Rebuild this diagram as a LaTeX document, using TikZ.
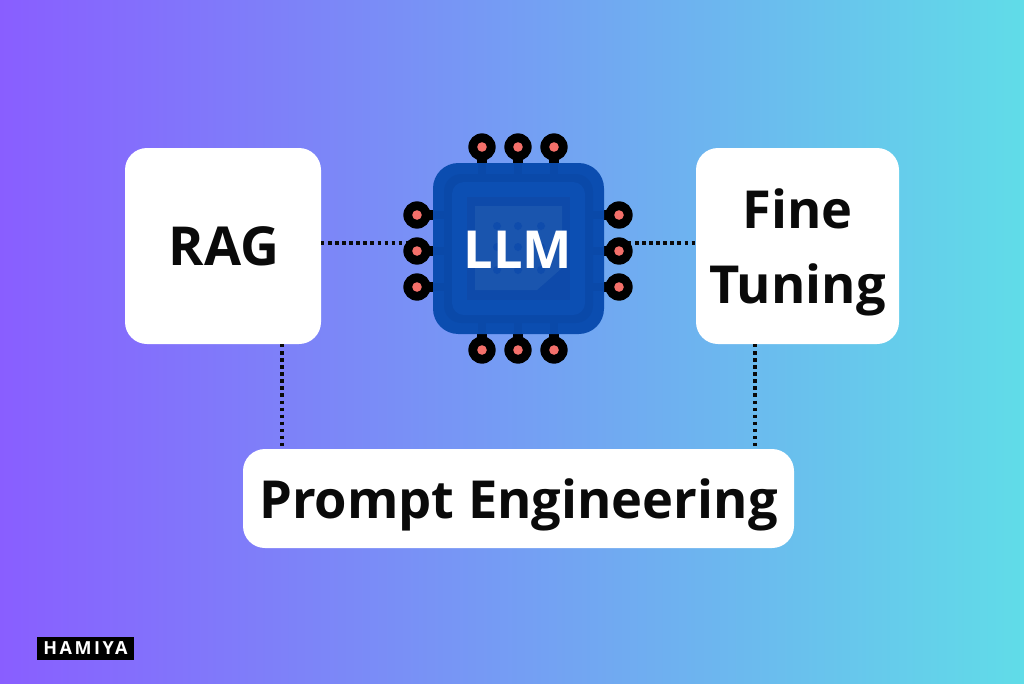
\documentclass[tikz,border=0pt]{standalone}
\usepackage{fontspec}
\setmainfont{Open Sans}
\usetikzlibrary{calc}
\definecolor{bgL}{HTML}{895EFF}
\definecolor{bgM}{HTML}{72A3EE}
\definecolor{bgR}{HTML}{60DCE8}
\definecolor{chipA}{HTML}{0B4DB0}
\definecolor{chipB}{HTML}{0A49A9}
\definecolor{chipC}{HTML}{0C4FB3}
\definecolor{chipD}{HTML}{0E4AAA}
\definecolor{chipE}{HTML}{1A55AE}
\definecolor{chipDot}{HTML}{0F4CAC}
\definecolor{ink}{HTML}{0A0A0A}
\definecolor{padc}{HTML}{F4706A}
\newcommand{\pxu}{0.75pt}
\tikzset{
  x=\pxu,y=-\pxu,
  card/.style={fill=white,rounded corners=16.5pt,inner sep=0pt,align=center,text=ink,text depth=0pt,
    font=\fontsize{39.3}{56}\selectfont\bfseries},
  link/.style={draw=ink,line width=2.6pt,dash pattern=on 2.6pt off 2.7pt},
  pad/.style={circle,fill=black,minimum size=20.5pt,inner sep=0pt},
  padcore/.style={circle,fill=padc,minimum size=7.2pt,inner sep=0pt},
  stem/.style={draw=black,line width=7.5pt},
  trace/.style={draw=chipB,line width=6pt},
  layer/.style={inner sep=0pt}
}
\begin{document}
\begin{tikzpicture}
\useasboundingbox (0,0) rectangle (1024,683);
\shade[left color=bgL,middle color=bgM,right color=bgR] (0,0) rectangle (1024,683);

\node[card,minimum width=147pt,minimum height=147pt] (rag) at (223,246) {\fontsize{40.3}{56}\selectfont\hspace*{1.5pt}RAG};
\node[card,minimum width=152.25pt,minimum height=147pt] (fine) at (797.5,246) {Fine\\Tuning};
\node[card,minimum width=413.25pt,minimum height=74.25pt] (prompt) at (518.5,498.5) {Prompt Engineering};
\node[layer,minimum size=128.25pt] (chip) at (518.5,248.5) {};

\coordinate (ragS) at (282,344);
\coordinate (ragP) at (282,449);
\coordinate (fineS) at (755,344);
\coordinate (fineP) at (755,449);
\coordinate (ragE) at (321,243);
\coordinate (chipW) at (410,243);
\coordinate (chipE) at (628,243);
\coordinate (fineW) at (696,243);
\draw[link] (ragE) -- (chipW);
\draw[link] (chipE) -- (fineW);
\draw[link] (ragS) -- (ragP);
\draw[link] (fineS) -- (fineP);

\foreach \n/\px/\py in {t1/482/147,t2/518/147,t3/554/147,b1/482/350,b2/518/350,b3/554/350,
                        l1/417/215,l2/417/251,l3/417/287,r1/619/215,r2/619/251,r3/619/287}{
  \node[pad] (\n) at (\px,\py) {};
}
\foreach \n in {t1,t2,t3}{\draw[stem] (\n.center) -- (\n.center |- chip.north);}
\foreach \n in {b1,b2,b3}{\draw[stem] (\n.center) -- (\n.center |- chip.south);}
\foreach \n in {l1,l2,l3}{\draw[stem] (\n.center) -- (\n.center -| chip.west);}
\foreach \n in {r1,r2,r3}{\draw[stem] (\n.center) -- (\n.center -| chip.east);}

\fill[chipA,rounded corners=19pt] (433,163) rectangle (604,334);
\fill[chipB,rounded corners=13pt] (444,174) rectangle (593,323);
\fill[chipC,rounded corners=9pt] (452,182) rectangle (585,315);
\foreach \n in {t1,t2,t3}{\draw[trace] (\n.center |- chip.north) -- ++(0,14);}
\foreach \n in {b1,b2,b3}{\draw[trace] (\n.center |- chip.south) -- ++(0,-14);}
\foreach \n in {l1,l2,l3}{\draw[trace] (\n.center -| chip.west) -- ++(14,0);}
\foreach \n in {r1,r2,r3}{\draw[trace] (\n.center -| chip.east) -- ++(-14,0);}
\fill[chipD] (467,197) rectangle (570,300);
\fill[chipE] (475,206) -- (562,206) -- (562,268) -- (537,290) -- (475,290) -- cycle;
\foreach \dx in {497,518,541}{\foreach \dy in {226,247,270}{
  \fill[chipDot] (\dx,\dy) circle (3pt);
}}
\foreach \n in {t1,t2,t3,b1,b2,b3,l1,l2,l3,r1,r2,r3}{
  \node[padcore] at (\n) {};
}
\node[text=white,font=\fontsize{39.3}{44}\selectfont\bfseries,inner sep=0pt] (llm) at (518,250) {LLM};

\node[fill=black,text=white,minimum width=72.75pt,minimum height=17.25pt,inner sep=0pt,
  font=\fontsize{13.5}{14}\selectfont\bfseries\addfontfeatures{LetterSpace=14}] (logo) at (85.5,648.5) {HAMIYA};
\end{tikzpicture}
\end{document}
